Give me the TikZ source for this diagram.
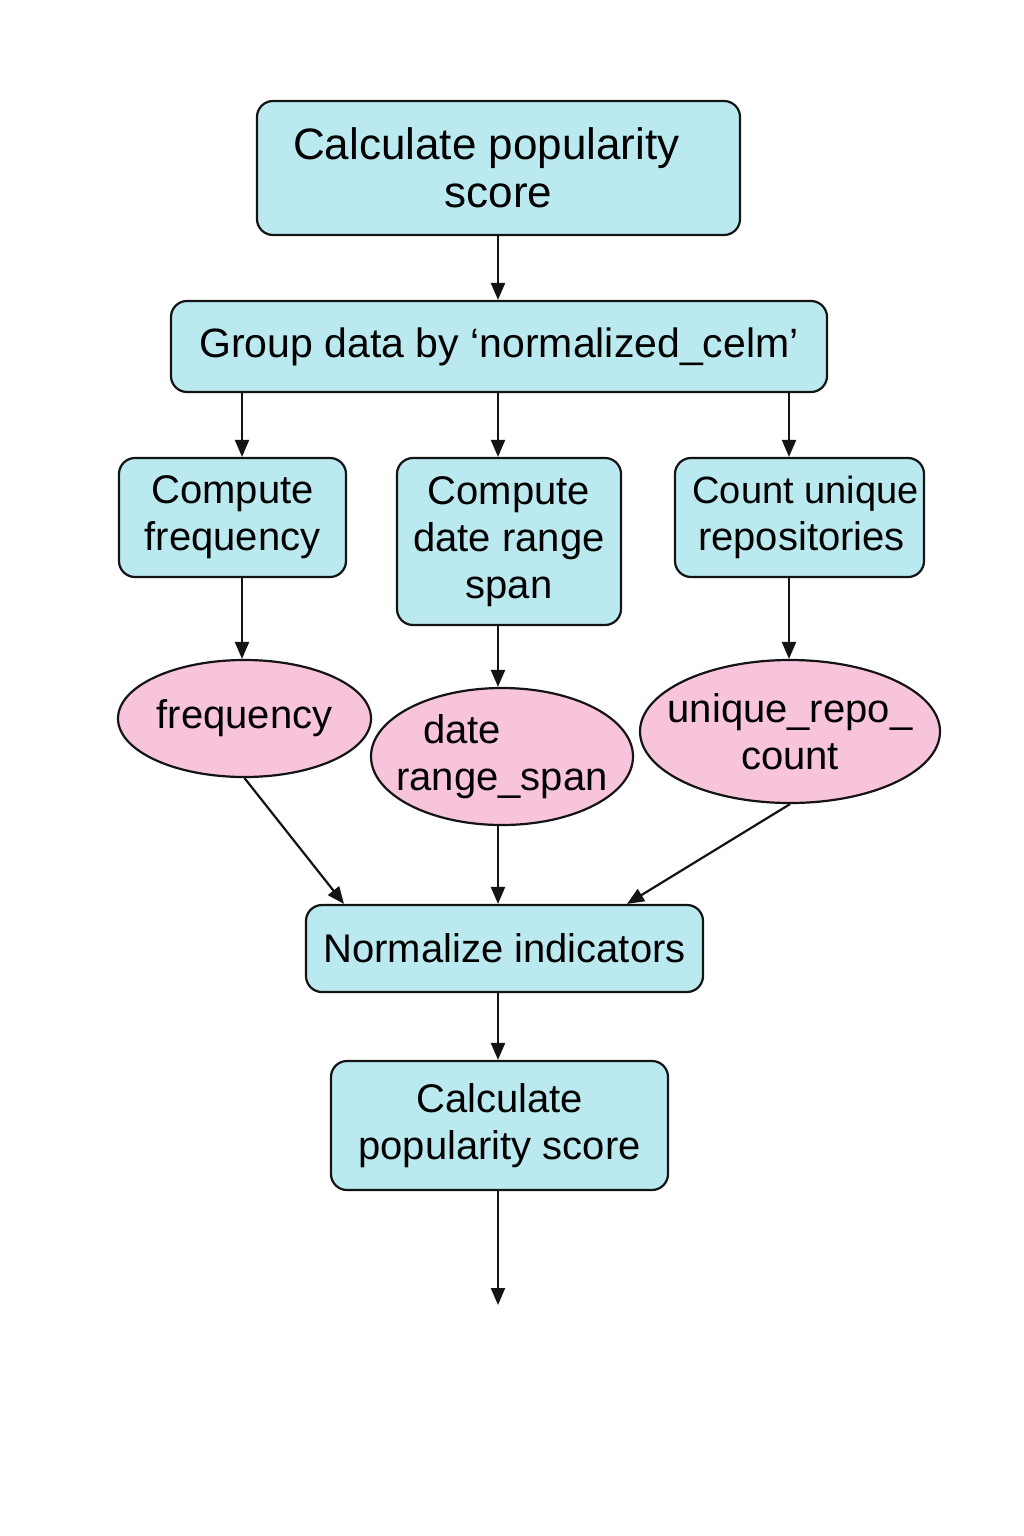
\documentclass[tikz,border=0pt]{standalone}
\usepackage{fontspec}
\setmainfont{Liberation Sans}
\usetikzlibrary{shapes.geometric,arrows.meta}
\definecolor{boxfill}{RGB}{186,234,240}
\definecolor{ellfill}{RGB}{248,196,220}
\definecolor{edge}{RGB}{20,20,20}
\tikzset{
  procbox/.style={draw=edge, line width=2.2pt, fill=boxfill, rounded corners=16pt,
    inner sep=0pt, align=center, font=\fontsize{40}{47}\selectfont},
  ellbox/.style={draw=edge, line width=2.2pt, fill=ellfill, ellipse, inner sep=0pt},
  elltext/.style={inner sep=0pt, align=center, font=\fontsize{40}{47}\selectfont},
  arr/.style={draw=edge, line width=2.2pt, -{Triangle[length=17pt,width=14pt]}}
}
\begin{document}
\begin{tikzpicture}[x=1pt,y=-1pt]
\path[use as bounding box, fill=white] (0,0) rectangle (1024,1536);

\node[procbox, minimum width=483pt, minimum height=134pt, font=\fontsize{44}{48}\selectfont]
  (top) at (498.5,168) {Calculate popularity\hspace*{0.55em}\\score};
\node[procbox, minimum width=656pt, minimum height=91pt, font=\fontsize{41}{47}\selectfont]
  (grp) at (499,346.5) {Group data by ‘normalized\_celm’};

\node[procbox, minimum width=227pt, minimum height=119pt] (cf) at (232.5,517.5) {Compute\\frequency};
\node[procbox, minimum width=224pt, minimum height=167pt] (cd) at (509,541.5) {Compute\\date range\\span};
\node[procbox, minimum width=249pt, minimum height=119pt] (cu) at (799.5,517.5) {\hspace*{12pt}\fontsize{38}{47}\selectfont Count unique\\\fontsize{40}{47}\selectfont\hspace*{4pt}repositories};

\node[ellbox, minimum width=253pt, minimum height=117pt] (e1) at (244.5,718.5) {};
\node[elltext] (e1t) at (e1) {frequency};
\node[ellbox, minimum width=262pt, minimum height=137pt] (e2) at (502,756.5) {};
\node[elltext] (e2t) at (e2) {date\hspace*{2em}\\range\_span};
\node[ellbox, minimum width=300pt, minimum height=143pt] (e3) at (790,731.5) {};
\node[elltext] (e3t) at (e3) {unique\_repo\_\\count};

\node[procbox, minimum width=397pt, minimum height=87pt] (norm) at (504.5,948.5) {Normalize indicators};
\node[procbox, minimum width=337pt, minimum height=129pt] (calc) at (499.5,1125.5) {Calculate\\popularity score};
\coordinate (out) at (498,1305);

\draw[arr] (top.south -| 498,0) -- (grp.north -| 498,0);
\draw[arr] (grp.south -| 242,0) -- (cf.north -| 242,0);
\draw[arr] (grp.south -| 498,0) -- (cd.north -| 498,0);
\draw[arr] (grp.south -| 789,0) -- (cu.north -| 789,0);
\draw[arr] (cf.south -| 242,0) -- (e1.north -| 242,0);
\draw[arr] (cd.south -| 498,0) -- (e2.north -| 498,0);
\draw[arr] (cu.south -| 789,0) -- (e3.north -| 789,0);
\draw[arr] (e1.south) -- (norm.north -| 344,0);
\draw[arr] (e2.south -| 498,0) -- (norm.north -| 498,0);
\draw[arr] (e3.south) -- (norm.north -| 627,0);
\draw[arr] (norm.south -| 498,0) -- (calc.north -| 498,0);
\draw[arr] (calc.south -| 498,0) -- (out);
\end{tikzpicture}
\end{document}
